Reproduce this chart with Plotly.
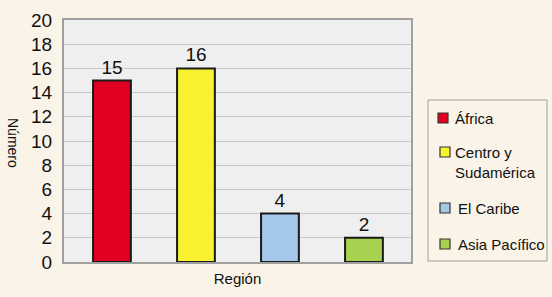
import plotly.graph_objects as go

regions = ["África", "Centro y<br>Sudamérica", "El Caribe", "Asia Pacífico"]
values = [15, 16, 4, 2]
colors = ["#e10022", "#f8f231", "#a3c8ea", "#a8d14f"]
y_ticks = list(range(0, 21, 2))

W, H = 552, 297
L, R, T, B = 64, 411, 20, 262  # plot area in pixels


def px(x):
    return (x - L) / (R - L)


def py(y):
    return (B - y) / (B - T)


fig = go.Figure()
for i, (r, v, c) in enumerate(zip(regions, values, colors)):
    fig.add_trace(go.Bar(
        x=[i], y=[v], name=r, marker=dict(color=c, line=dict(color="#1a1a1a", width=2)),
        width=0.45, text=[str(v)], textposition="outside",
        textfont=dict(size=19, color="#111"), cliponaxis=False,
        showlegend=False,
    ))

# Legend drawn as shapes + annotations
shapes = [dict(type="rect", xref="paper", yref="paper",
               x0=px(428), x1=px(547), y0=py(261), y1=py(100),
               line=dict(color="#a0a0a0", width=1), fillcolor="#f9f3e8", layer="below")]
annotations = []
leg_sym_x = [438, 440, 440, 440]
leg_txt_x = [453, 453, 456, 456]
leg_y = [118, 152, 208, 244]
for i, (r, c) in enumerate(zip(regions, colors)):
    sx, tx, yc = leg_sym_x[i], leg_txt_x[i], leg_y[i]
    shapes.append(dict(type="rect", xref="paper", yref="paper",
                       x0=px(sx), x1=px(sx + 10), y0=py(yc + 5), y1=py(yc - 5),
                       line=dict(color="#333", width=1.2), fillcolor=c))
    annotations.append(dict(xref="paper", yref="paper", x=px(tx), y=py(yc - 10),
                            xanchor="left", yanchor="top", align="left",
                            text=r, showarrow=False,
                            font=dict(size=15, color="#111")))

# y-axis title
annotations.append(dict(xref="paper", yref="paper", x=px(13), y=py(143),
                        xanchor="center", yanchor="middle", textangle=90,
                        text="Número", showarrow=False,
                        font=dict(size=14, color="#111")))

fig.update_layout(
    width=W, height=H,
    paper_bgcolor="#f9f3e8", plot_bgcolor="#efefef",
    font=dict(family="Liberation Sans, Arial, sans-serif", color="#111"),
    barmode="overlay",
    margin=dict(l=L, r=W - R, t=T, b=H - B, autoexpand=False),
    showlegend=False,
    shapes=shapes, annotations=annotations,
    xaxis=dict(range=[-0.571, 3.56], showticklabels=False, showgrid=False,
               showline=True, linecolor="#a0a0a0", linewidth=2, mirror=True,
               zeroline=False, ticks="", automargin=False,
               title=dict(text="Región", font=dict(size=15), standoff=10)),
    yaxis=dict(range=[0, 20], tickvals=y_ticks, tickfont=dict(size=19),
               showgrid=True, gridcolor="#c8c8c8", gridwidth=1,
               showline=True, linecolor="#a0a0a0", linewidth=2, mirror=True,
               zeroline=False, ticks="", ticklabelstandoff=6, automargin=False),
)

fig.write_html("out.html", config={"displayModeBar": False},
               post_script="document.body.style.margin='0';")
